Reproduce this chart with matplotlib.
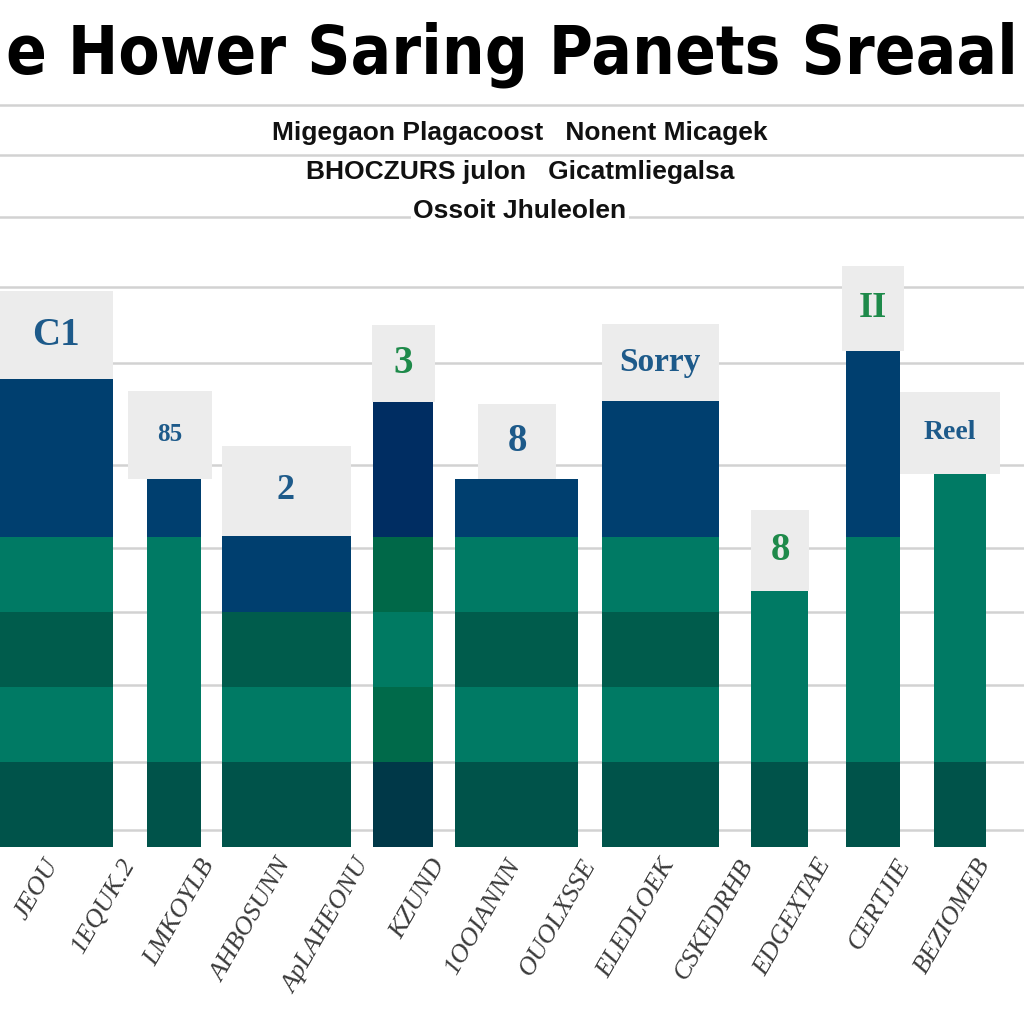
import matplotlib
matplotlib.use("Agg")
import matplotlib.pyplot as plt
from matplotlib.patches import Rectangle

# ---------------- data ----------------
bars = ["C1", "85", "2", "3", "8", "Sorry", "8", "II", "Reel"]
base  = [1.13, 1.13, 1.13, 1.13, 1.13, 1.13, 1.13, 1.13, 1.13]
band2 = [1.01, 1.01, 1.01, 1.01, 1.01, 1.01, 1.01, 1.01, 1.01]
band3 = [1.00, 1.00, 1.00, 1.00, 1.00, 1.00, 1.00, 1.00, 1.00]
band4 = [1.00, 1.00, 0.00, 1.00, 1.00, 1.00, 0.27, 1.00, 1.84]
top   = [2.10, 0.77, 1.01, 1.79, 0.77, 1.81, 0.00, 2.48, 0.00]

tick_labels = ["JEOU", "1EQUK.2", "LMKOYLB", "AHBOSUNN", "ApLAHEONU",
               "KZUND", "1OOIANNN", "OUOLXSSE", "ELEDLOEK", "CSKEDRHB",
               "EDGEXTAE", "CERTJIE", "BEZIOMEB"]

title = "e Hower Saring Panets Sreaal"
subtitle = ["Migegaon Plagacoost   Nonent Micagek",
            "BHOCZURS julon   Gicatmliegalsa",
            "Ossoit Jhuleolen"]

grid_levels = [0.23, 1.13, 2.16, 3.13, 3.99, 5.09, 6.45, 7.47, 8.40, 9.23, 9.89]

# ---------------- layout / style ----------------
bar_x = [56, 174, 286, 403, 516, 660, 779, 873, 960]
bar_w = [113, 54, 129, 60, 123, 117, 57, 54, 52]
box_x = [56, 170, 286, 403, 517, 660, 780, 873, 950]
box_w = [113, 84, 129, 63, 78, 117, 58, 62, 100]
box_h = [1.17, 1.17, 1.2, 1.03, 1.0, 1.03, 1.09, 1.13, 1.09]
tick_x = [44, 120, 200, 277, 355, 431, 506, 581, 660, 738, 816, 895, 975]

DK, MD, D2, BL = "#00534a", "#007a64", "#005c4c", "#003f6f"
colors = [
    [DK, MD, D2, MD, BL],
    [DK, MD, MD, MD, BL],
    [DK, MD, D2, D2, BL],
    ["#003848", "#006a4a", "#007a62", "#006848", "#002d62"],
    [DK, MD, D2, MD, BL],
    [DK, MD, D2, MD, BL],
    [DK, MD, MD, MD, BL],
    [DK, MD, MD, MD, BL],
    [DK, MD, MD, MD, BL],
]
label_colors = ["#1d5a8a", "#1d5a8a", "#1d5a8a", "#1e8a4a", "#1d5a8a",
                "#1d5a8a", "#1e8a4a", "#1e8a4a", "#1d5a8a"]
label_sizes = [28, 18, 26, 28, 28, 24, 28, 26, 20]

fig = plt.figure(figsize=(10.24, 10.24), dpi=100, facecolor="white")
ax = fig.add_axes([0, 177 / 1024, 1, 847 / 1024])
ax.set_xlim(0, 1024)
ax.set_ylim(0, 847 / 75)
ax.set_facecolor("white")
for s in ax.spines.values():
    s.set_visible(False)

for g in grid_levels:
    ax.axhline(g, color="#d2d2d2", lw=1.8, zorder=0)

layers = [base, band2, band3, band4, top]
bottoms = [0.0] * len(bars)
for li, layer in enumerate(layers):
    cols = [colors[i][li] for i in range(len(bars))]
    ax.bar(bar_x, layer, width=bar_w, bottom=bottoms, color=cols,
           linewidth=0, zorder=2)
    bottoms = [b + v for b, v in zip(bottoms, layer)]

for i, lab in enumerate(bars):
    y0 = bottoms[i]
    ax.add_patch(Rectangle((box_x[i] - box_w[i] / 2, y0), box_w[i], box_h[i],
                           facecolor="#ececec", edgecolor="none", zorder=3))
    ax.text(box_x[i], y0 + box_h[i] / 2, lab, ha="center", va="center",
            fontsize=label_sizes[i], color=label_colors[i], fontweight="bold",
            family=["Liberation Serif", "DejaVu Serif"], zorder=4)

ax.set_yticks([])
ax.set_xticks(tick_x)
ax.set_xticklabels(tick_labels, rotation=60, ha="right", va="top",
                   rotation_mode="anchor", fontsize=19, color="#3a3a3a",
                   style="italic", family=["Liberation Serif", "DejaVu Serif"])
ax.tick_params(axis="x", length=0, pad=6)

t = fig.text(512 / 1024, 1 - 55 / 1024, title, ha="center", va="center",
             fontsize=62, fontweight="bold", color="black",
             fontstretch="condensed",
             family=["DejaVu Sans", "Liberation Sans"])
# shrink the title so it fits inside the figure width
fig.canvas.draw()
r = fig.canvas.get_renderer()
w = t.get_window_extent(r).width
if w > 1012:
    t.set_fontsize(62 * 1012 / w)

for k, (line, py) in enumerate(zip(subtitle, [133, 172, 211])):
    fig.text(520 / 1024, 1 - py / 1024, line, ha="center", va="center",
             fontsize=19, color="#111111", fontweight="bold",
             family=["Liberation Sans", "DejaVu Sans"],
             bbox=dict(facecolor="white", edgecolor="none", pad=2))

fig.savefig("out.png", dpi=100, facecolor="white")
